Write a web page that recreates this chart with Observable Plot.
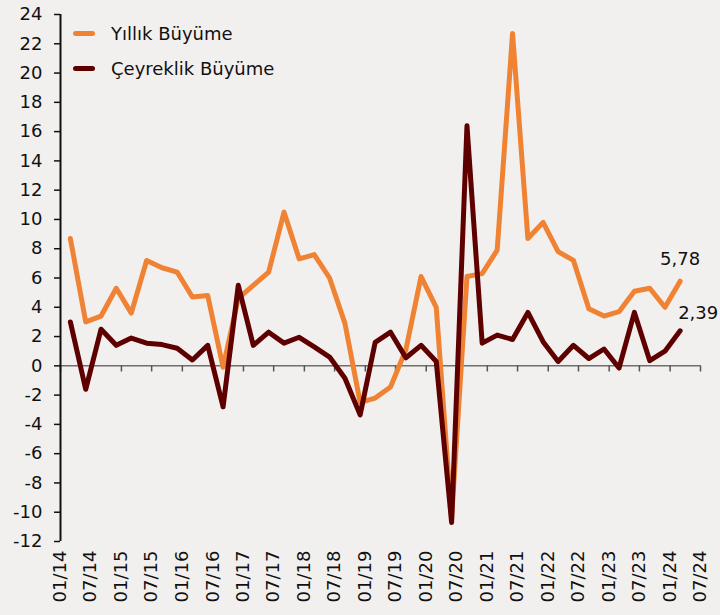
<!DOCTYPE html>
<html><head><meta charset="utf-8">
<script src="https://cdn.jsdelivr.net/npm/d3@7"></script>
<script src="https://cdn.jsdelivr.net/npm/@observablehq/plot@0.6"></script>
<style>
html,body{margin:0;padding:0;background:#f2f0ef;}
#wrap{position:relative;width:720px;height:615px;background:#f2f0ef;}
.legend{position:absolute;left:73px;top:16px;font-family:"DejaVu Sans",sans-serif;font-size:18px;color:#111;}
.legend .row{display:flex;align-items:center;height:35px;}
.legend .sw{display:inline-block;width:22px;height:5px;border-radius:3px;margin-right:16px;}
</style></head><body><div id="wrap"></div>
<script>
// Quarter-end months, 2014Q1 .. 2024Q1
const quarters = [
 "2014-03","2014-06","2014-09","2014-12",
 "2015-03","2015-06","2015-09","2015-12",
 "2016-03","2016-06","2016-09","2016-12",
 "2017-03","2017-06","2017-09","2017-12",
 "2018-03","2018-06","2018-09","2018-12",
 "2019-03","2019-06","2019-09","2019-12",
 "2020-03","2020-06","2020-09","2020-12",
 "2021-03","2021-06","2021-09","2021-12",
 "2022-03","2022-06","2022-09","2022-12",
 "2023-03","2023-06","2023-09","2023-12",
 "2024-03"
];
// Yıllık Büyüme (annual growth, %)
const yillik = [
 8.7, 3.0, 3.4, 5.3,
 3.6, 7.2, 6.7, 6.4,
 4.7, 4.8, -0.1, 4.6,
 5.5, 6.4, 10.5, 7.3,
 7.6, 6.0, 2.9, -2.5,
 -2.2, -1.45, 1.1, 6.1,
 4.0, -10.4, 6.1, 6.3,
 7.9, 22.7, 8.7, 9.8,
 7.8, 7.2, 3.9, 3.4,
 3.7, 5.1, 5.3, 4.0,
 5.78
];
// Çeyreklik Büyüme (quarterly growth, %)
const ceyreklik = [
 3.0, -1.6, 2.5, 1.4,
 1.9, 1.55, 1.45, 1.2,
 0.4, 1.4, -2.8, 5.5,
 1.4, 2.3, 1.55, 1.95,
 1.3, 0.6, -0.85, -3.35,
 1.6, 2.3, 0.55, 1.4,
 0.3, -10.7, 16.4, 1.55,
 2.1, 1.8, 3.65, 1.65,
 0.3, 1.4, 0.5, 1.15,
 -0.15, 3.65, 0.35, 1.0,
 2.39
];
const xTickLabels = ["01/14","07/14","01/15","07/15","01/16","07/16","01/17","07/17","01/18","07/18",
 "01/19","07/19","01/20","07/20","01/21","07/21","01/22","07/22","01/23","07/23","01/24","07/24"];
const yTicks = [-12,-10,-8,-6,-4,-2,0,2,4,6,8,10,12,14,16,18,20,22,24];
const seriesNames = ["Yıllık Büyüme","Çeyreklik Büyüme"];
const colors = ["#f08233","#5e0000"];

const parseQ = d3.utcParse("%Y-%m");
const parseTick = d3.utcParse("%m/%y");
const tickDates = xTickLabels.map(parseTick);
const data = quarters.map((q,i)=>({date: parseQ(q), yoy: yillik[i], qoq: ceyreklik[i]}));
const last = data[data.length-1];
const fmt = v => v.toFixed(2).replace(".", ",");
const font = '"DejaVu Sans", sans-serif';

const chart = Plot.plot({
  width: 720, height: 615,
  marginLeft: 60, marginRight: 20, marginTop: 14, marginBottom: 74,
  style: {background: "transparent", fontFamily: font, fontSize: "18px", color: "#111", overflow: "visible"},
  x: {type: "utc", domain: [tickDates[0], tickDates[tickDates.length-1]]},
  y: {domain: [yTicks[0], yTicks[yTicks.length-1]]},
  marks: [
    Plot.ruleY([0], {stroke: "#6f6f6f", strokeWidth: 1.5}),
    Plot.ruleX(tickDates, {x: d => d, y1: 0, y2: -0.42, stroke: "#555", strokeWidth: 1.5}),
    Plot.axisY(yTicks, {tickSize: 6, tickPadding: 12, strokeWidth: 1.5, stroke: "#111", tickFormat: d => String(d), fontSize: 18}),
    Plot.ruleX([tickDates[0]], {stroke: "#111", strokeWidth: 2}),
    Plot.axisX(tickDates, {tickSize: 0, tickPadding: 9, tickRotate: -90, tickFormat: d3.utcFormat("%m/%y"), fontSize: 18}),
    Plot.line(data, {x: "date", y: "yoy", stroke: colors[0], strokeWidth: 5, strokeLinejoin: "round", strokeLinecap: "round"}),
    Plot.line(data, {x: "date", y: "qoq", stroke: colors[1], strokeWidth: 5, strokeLinejoin: "round", strokeLinecap: "round"}),
    Plot.text([last], {x: "date", y: "yoy", text: d => fmt(d.yoy), dy: -22, fontSize: 18, fill: "#111"}),
    Plot.text([last], {x: "date", y: "qoq", text: d => fmt(d.qoq), dy: -18, dx: -2, textAnchor: "start", fontSize: 18, fill: "#111"})
  ]
});
const wrap = document.getElementById("wrap");
wrap.appendChild(chart);
const leg = document.createElement("div");
leg.className = "legend";
leg.innerHTML = seriesNames.map((n,i)=>`<div class="row"><span class="sw" style="background:${colors[i]}"></span><span>${n}</span></div>`).join("");
wrap.appendChild(leg);
</script></body></html>
